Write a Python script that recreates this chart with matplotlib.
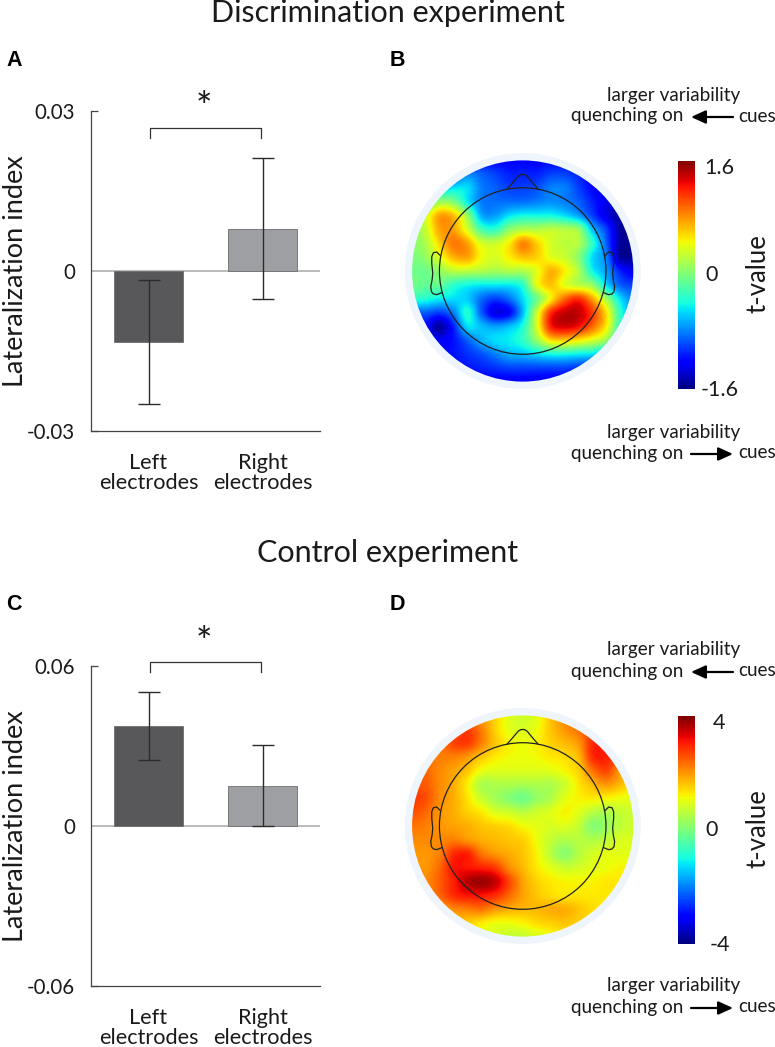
# -*- coding: utf-8 -*-
"""Lateralization index bars and t-value scalp maps, discrimination and control experiments."""
import matplotlib
matplotlib.use('Agg')
import matplotlib.pyplot as plt
import numpy as np
from matplotlib.patches import Circle

plt.rcParams['font.family'] = ['Lato', 'DejaVu Sans']

W, H = 775, 1047

categories = ['Left\nelectrodes', 'Right\nelectrodes']

# panel A
a_values = [-0.0133, 0.0079]
a_err_low = [-0.0249, -0.0053]
a_err_high = [-0.0017, 0.0212]
a_ticks = [-0.03, 0, 0.03]
a_ticklabels = ['-0.03', '0', '0.03']

# panel C
c_values = [0.0375, 0.0150]
c_err_low = [0.0247, 0.0000]
c_err_high = [0.0503, 0.0304]
c_ticks = [-0.06, 0, 0.06]
c_ticklabels = ['-0.06', '0', '0.06']

bar_colors = ['#58585a', '#9d9fa2']

# scalp values read on a 17x17 grid over the disc, top row first
topo_b = np.array([
    [-1.2, -1.2, -1.2, -1.2, -1.2, -1.2, -1.2, -1.2, -1.2, -1.2, -1.2, -1.2, -1.2, -1.2, -1.3, -1.3, -1.3],
    [-1.1, -1.1, -1.1, -1.0, -0.8, -0.9, -1.0, -1.1, -1.1, -1.1, -1.0, -1.0, -1.1, -1.2, -1.3, -1.3, -1.3],
    [-0.6, -0.6, -0.6, -0.5, -0.5, -0.8, -0.9, -1.0, -1.0, -0.95, -0.8, -0.8, -1.0, -1.2, -1.3, -1.3, -1.3],
    [-0.2, -0.2, 0.1, 0.0, -0.45, -0.8, -0.85, -0.85, -0.85, -0.8, -0.75, -0.8, -0.9, -1.1, -1.3, -1.4, -1.4],
    [0.0, 0.3, 0.75, 0.65, 0.1, -0.65, -0.7, -0.5, -0.4, -0.4, -0.4, -0.5, -0.7, -1.0, -1.3, -1.5, -1.5],
    [0.05, 0.3, 0.75, 0.75, 0.35, -0.2, -0.3, 0.05, 0.2, 0.2, 0.25, 0.2, 0.1, -0.6, -1.0, -1.5, -1.5],
    [0.05, 0.2, 0.6, 0.9, 0.75, 0.35, 0.3, 0.5, 0.85, 0.6, 0.35, 0.25, 0.2, -0.3, -0.9, -1.5, -1.5],
    [0.0, 0.1, 0.4, 0.7, 0.75, 0.45, 0.35, 0.5, 0.65, 0.6, 0.4, 0.3, 0.05, -0.5, -0.8, -1.5, -1.5],
    [-0.05, -0.05, 0.1, 0.25, 0.25, 0.2, 0.15, 0.2, 0.2, 0.4, 0.7, 0.5, 0.2, -0.4, -0.7, -1.1, -1.3],
    [-0.05, -0.1, -0.1, -0.3, -0.4, -0.45, -0.45, -0.45, -0.3, 0.4, 0.65, 0.4, 0.25, 0.1, -0.5, -0.9, -1.0],
    [-0.3, -0.35, -0.45, -0.5, -0.55, -0.85, -1.0, -0.85, -0.5, -0.05, 0.5, 0.95, 1.15, 0.75, 0.15, -0.5, -0.8],
    [-0.9, -0.9, -1.0, -0.8, -0.35, -0.9, -1.3, -1.2, -0.6, 0.3, 1.15, 1.4, 1.4, 1.1, 0.55, -0.3, -0.7],
    [-1.2, -1.2, -1.5, -1.1, -0.5, -0.6, -0.7, -0.6, -0.35, 0.35, 1.2, 1.35, 1.25, 0.95, 0.5, -0.3, -0.7],
    [-1.2, -1.2, -1.25, -1.15, -0.9, -0.65, -0.5, -0.45, -0.3, 0.1, 0.55, 0.6, 0.5, 0.35, 0.1, -0.5, -0.7],
    [-1.2, -1.2, -1.2, -1.15, -1.05, -0.95, -0.8, -0.65, -0.6, -0.5, -0.4, -0.4, -0.45, -0.5, -0.7, -0.9, -0.9],
    [-1.2, -1.2, -1.2, -1.2, -1.15, -1.1, -1.05, -1.0, -1.0, -1.0, -1.0, -1.0, -1.05, -1.1, -1.1, -1.1, -1.1],
    [-1.3, -1.3, -1.3, -1.3, -1.3, -1.25, -1.25, -1.25, -1.25, -1.25, -1.25, -1.25, -1.25, -1.25, -1.25, -1.25, -1.25],
])

topo_d = np.array([
    [2.0, 2.0, 2.0, 2.0, 2.0, 1.8, 1.5, 1.0, 0.8, 1.0, 1.6, 2.0, 2.2, 2.3, 2.3, 2.3, 2.3],
    [2.0, 2.0, 2.0, 2.3, 2.7, 2.2, 1.5, 1.0, 0.9, 1.1, 1.6, 2.0, 2.3, 2.6, 2.6, 2.6, 2.6],
    [2.0, 2.0, 2.2, 2.7, 2.8, 2.2, 1.6, 1.2, 1.1, 1.2, 1.5, 1.7, 2.0, 2.9, 2.9, 2.6, 2.6],
    [2.2, 2.2, 2.2, 2.2, 2.0, 1.6, 1.3, 1.15, 1.1, 1.15, 1.3, 1.4, 1.7, 2.9, 3.0, 2.4, 2.2],
    [2.4, 2.4, 2.1, 1.9, 1.6, 1.1, 0.95, 0.95, 0.95, 0.95, 1.0, 1.2, 1.5, 2.3, 2.7, 2.0, 1.8],
    [2.5, 2.5, 2.1, 1.8, 1.25, 0.5, 0.5, 0.5, 0.45, 0.5, 0.5, 0.8, 1.3, 1.7, 2.0, 1.7, 1.4],
    [2.8, 2.6, 2.1, 1.8, 1.35, 0.75, 0.4, 0.1, -0.1, 0.25, 0.5, 1.0, 1.2, 1.3, 1.2, 1.1, 1.0],
    [2.6, 2.4, 2.0, 1.8, 1.5, 1.3, 0.9, 0.8, 0.6, 0.8, 0.95, 1.2, 1.0, 0.6, 0.5, 0.7, 0.8],
    [2.3, 2.2, 2.0, 1.9, 1.8, 1.6, 1.5, 1.4, 1.15, 1.0, 0.9, 0.95, 0.7, 0.1, 0.3, 0.65, 0.8],
    [2.1, 2.1, 2.1, 2.2, 2.0, 1.8, 1.7, 1.6, 1.5, 1.1, 0.7, 0.5, 0.6, 0.5, 0.65, 0.9, 0.9],
    [2.0, 2.0, 2.2, 2.9, 3.0, 2.3, 2.0, 1.8, 1.6, 1.2, 0.6, 0.15, 0.55, 0.85, 1.0, 1.0, 1.0],
    [2.0, 2.0, 2.4, 3.1, 3.1, 3.0, 2.8, 2.1, 1.7, 1.3, 1.0, 0.75, 0.85, 1.0, 1.1, 1.2, 1.2],
    [2.0, 2.1, 2.5, 3.0, 3.6, 3.8, 3.5, 2.7, 1.9, 1.5, 1.3, 1.2, 1.2, 1.2, 1.3, 1.3, 1.3],
    [2.0, 2.0, 2.4, 2.9, 3.1, 3.1, 2.9, 2.4, 1.9, 1.6, 1.4, 1.3, 1.3, 1.3, 1.3, 1.3, 1.3],
    [1.9, 1.9, 1.9, 2.1, 2.2, 2.3, 2.0, 1.8, 1.7, 1.7, 1.8, 1.8, 1.6, 1.4, 1.3, 1.3, 1.3],
    [1.6, 1.6, 1.6, 1.6, 1.5, 1.3, 1.1, 1.1, 1.2, 1.4, 1.5, 1.6, 1.5, 1.4, 1.4, 1.4, 1.4],
    [1.2, 1.2, 1.2, 1.2, 1.2, 1.1, 0.9, 0.7, 0.7, 0.9, 1.1, 1.3, 1.3, 1.3, 1.3, 1.3, 1.3],
])


def px_rect(x0, y0, x1, y1):
    """pixel box (y down) to figure fractions"""
    return [x0 / W, 1 - y1 / H, (x1 - x0) / W, (y1 - y0) / H]


def ftext(fig, x, y, s, **kw):
    kw.setdefault('ha', 'center')
    kw.setdefault('va', 'center')
    fig.text(x / W, 1 - y / H, s, **kw)


def bar_panel(fig, top, values, err_low, err_high, ticks, ticklabels, bracket_y):
    ax = fig.add_axes(px_rect(90.5, top, 320, top + 320))
    x = np.arange(len(values))
    lower = np.array(values) - np.array(err_low)
    upper = np.array(err_high) - np.array(values)
    ax.axhline(0, color='#a8a8a8', lw=1.1, zorder=1)
    ax.bar(x, values, width=0.605, color=bar_colors, edgecolor='#6d6e70', lw=0.6, zorder=2)
    ax.errorbar(x, values, yerr=[lower, upper], fmt='none', ecolor='#2b2b2b',
                elinewidth=1.0, capsize=8.2, capthick=1.0, zorder=3)
    ax.set_xlim(-0.509, 1.504)
    ax.set_ylim(ticks[0], ticks[-1])
    ax.set_xticks(x)
    ax.set_xticklabels(categories, fontsize=15.6, color='#1a1a1a', linespacing=1.0)
    ax.set_yticks(ticks)
    ax.set_yticklabels(ticklabels, fontsize=14.8, color='#1a1a1a')
    ax.tick_params(axis='x', length=0, pad=16)
    ax.tick_params(axis='y', direction='in', length=5, width=0.9, color='#444444', pad=11)
    ax.yaxis.get_major_ticks()[1].tick1line.set_visible(False)
    for side in ['top', 'right']:
        ax.spines[side].set_visible(False)
    for side in ['left', 'bottom']:
        ax.spines[side].set_linewidth(0.9)
        ax.spines[side].set_color('#444444')
    ax.set_ylabel('Lateralization index', fontsize=19.5, color='#1a1a1a')
    ax.yaxis.set_label_coords(-0.272, 0.5)
    # bracket
    leg = (ticks[-1] - ticks[0]) * 10 / 320
    ax.plot([0.01, 0.01, 0.99, 0.99], [bracket_y - leg, bracket_y, bracket_y, bracket_y - leg],
            color='#333333', lw=0.9, clip_on=False)
    return ax


def head_outline(ax):
    lc = '#222222'
    ax.add_patch(Circle((0, 0), 250 / 332, fill=False, ec=lc, lw=0.9, zorder=5))
    nose_x = [352, 362, 385, 392, 398, 404, 411, 425, 443]
    nose_y = [146, 135, 108, 104, 103, 104, 108, 125, 146]
    ear_x = [150, 140, 130, 125, 125, 128, 126, 122, 124, 130, 140, 155]
    ear_y = [346, 336, 338, 350, 370, 400, 420, 440, 455, 462, 464, 458]
    ax.plot((np.array(nose_x) - 398) / 332, (393 - np.array(nose_y)) / 332, color=lc, lw=0.9, zorder=5)
    ear_l = (np.array(ear_x) - 398) / 332
    ear_v = (393 - np.array(ear_y)) / 332
    ax.plot(ear_l, ear_v, color=lc, lw=0.9, zorder=5)
    ax.plot(-ear_l, ear_v, color=lc, lw=0.9, zorder=5)


def topo_panel(fig, cy, grid, vmax, tick_label):
    cx = 522.7
    r = 118
    ax = fig.add_axes(px_rect(cx - r, cy - r, cx + r, cy + r))
    lim = 118 / 110.6
    ax.set_xlim(-lim, lim)
    ax.set_ylim(-lim, lim)
    ax.axis('off')
    ax.add_patch(Circle((0, 0), lim, fc='#eef5fc', ec='none', zorder=0))
    half = 1 + 1 / 16
    # catrom passes through the grid values, plain bicubic flattens the peaks
    im = ax.imshow(grid, cmap='jet', vmin=-vmax, vmax=vmax, extent=[-half, half, -half, half],
                   interpolation='catrom', interpolation_stage='data', zorder=1)
    ax.set_xlim(-lim, lim)
    ax.set_ylim(-lim, lim)
    im.set_clip_path(Circle((0, 0), 1, transform=ax.transData))
    head_outline(ax)

    # colour bar
    cax = fig.add_axes(px_rect(678, cy - 110, 695, cy + 118))
    cb = fig.colorbar(im, cax=cax)
    cb.outline.set_visible(False)
    cb.set_ticks([])
    ftext(fig, 719, cy - 103, tick_label, fontsize=15.5, color='#1a1a1a')
    ftext(fig, 712, cy + 4, '0', fontsize=15.5, color='#1a1a1a')
    ftext(fig, 720, cy + 119, '-' + tick_label, fontsize=15.5, color='#1a1a1a')
    ftext(fig, 758, cy + 3, 't-value', fontsize=18.5, rotation=90, color='#1a1a1a')


def quench_note(fig, y, left=True):
    """two line note with the arrow between 'quenching on' and 'cues'"""
    ftext(fig, 674, y - 21, 'larger variability', fontsize=13.6, color='#1a1a1a')
    ftext(fig, 683, y, 'quenching on', fontsize=13.6, color='#1a1a1a', ha='right')
    ftext(fig, 738, y, 'cues', fontsize=13.6, color='#1a1a1a', ha='left')
    start, end = (733, 691) if left else (691, 733)
    fig.add_artist(matplotlib.patches.FancyArrowPatch(
        (start / W, 1 - (y + 1) / H), (end / W, 1 - (y + 1) / H), transform=fig.transFigure,
        arrowstyle='-|>,head_length=0.55,head_width=0.25', mutation_scale=16,
        color='black', lw=1.6, shrinkA=0, shrinkB=0))


def main():
    fig = plt.figure(figsize=(W / 100, H / 100), dpi=100)

    ftext(fig, 388, 13, 'Discrimination experiment', fontsize=22, color='#1a1a1a')
    ftext(fig, 388, 553, 'Control experiment', fontsize=22, color='#1a1a1a')

    for s, x, y in [('A', 14, 60), ('B', 397, 60), ('C', 14, 604), ('D', 397, 604)]:
        ftext(fig, x, y, s, fontsize=15.5, fontweight='bold',
              family=['Liberation Sans', 'DejaVu Sans'], color='black')

    bar_panel(fig, 111, a_values, a_err_low, a_err_high, a_ticks, a_ticklabels, 0.0268)
    bar_panel(fig, 666, c_values, c_err_low, c_err_high, c_ticks, c_ticklabels, 0.0615)
    for star_y in [109, 644]:
        ftext(fig, 204, star_y, '*', fontsize=28, color='#1a1a1a')

    topo_panel(fig, 271, topo_b, 1.6, '1.6')
    topo_panel(fig, 826, topo_d, 4, '4')

    quench_note(fig, 116, left=True)
    quench_note(fig, 453, left=False)
    quench_note(fig, 671, left=True)
    quench_note(fig, 1007, left=False)

    fig.savefig('out.png', dpi=100, facecolor='white')
    plt.close(fig)


if __name__ == '__main__':
    main()
